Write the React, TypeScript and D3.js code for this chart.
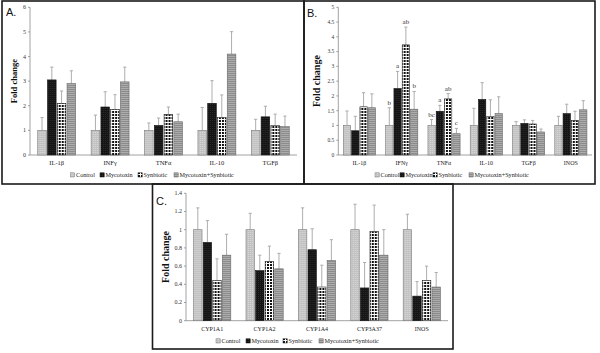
import React from 'react';
import * as d3 from 'd3';

const W = 600;
const H = 353;

const seriesNames = ['Control', 'Mycotoxin', 'Synbiotic', 'Mycotoxin+Synbiotic'];

// panel A
const catsA = ['IL-1β', 'INFγ', 'TNFα', 'IL-10', 'TGFβ'];
const controlA = [1, 1, 1, 1, 1];
const mycoA = [3.05, 1.95, 1.2, 2.1, 1.55];
const synA = [2.1, 1.85, 1.65, 1.52, 1.2];
const mixA = [2.9, 2.97, 1.35, 4.1, 1.15];
const controlSdA = [0.52, 0.62, 0.3, 0.93, 0.45];
const mycoSdA = [0.52, 0.62, 0.3, 0.92, 0.43];
const synSdA = [0.5, 0.6, 0.3, 0.92, 0.46];
const mixSdA = [0.52, 0.6, 0.31, 0.91, 0.43];

// panel B
const catsB = ['IL-1β', 'IFNγ', 'TNFα', 'IL-10', 'TGFβ', 'INOS'];
const controlB = [1, 1, 1, 1, 1, 1];
const mycoB = [0.82, 2.25, 1.48, 1.88, 1.07, 1.4];
const synB = [1.63, 3.73, 1.9, 1.3, 1.05, 1.17];
const mixB = [1.6, 1.55, 0.72, 1.4, 0.78, 1.53];
const controlSdB = [0.49, 0.6, 0.2, 0.58, 0.13, 0.31];
const mycoSdB = [0.49, 0.58, 0.2, 0.57, 0.12, 0.32];
const synSdB = [0.48, 0.6, 0.18, 0.57, 0.12, 0.31];
const mixSdB = [0.47, 0.6, 0.18, 0.57, 0.1, 0.31];
const lettersB = [
  ['', '', '', ''],
  ['b', 'a', 'ab', 'b'],
  ['bc', 'a', 'ab', 'c'],
  ['', '', '', ''],
  ['', '', '', ''],
  ['', '', '', ''],
];

// panel C
const catsC = ['CYP1A1', 'CYP1A2', 'CYP1A4', 'CYP3A37', 'INOS'];
const controlC = [1, 1, 1, 1, 1];
const mycoC = [0.86, 0.55, 0.78, 0.36, 0.27];
const synC = [0.44, 0.65, 0.37, 0.98, 0.44];
const mixC = [0.72, 0.57, 0.66, 0.72, 0.37];
const controlSdC = [0.24, 0.18, 0.24, 0.28, 0.17];
const mycoSdC = [0.24, 0.17, 0.23, 0.28, 0.16];
const synSdC = [0.24, 0.17, 0.24, 0.29, 0.16];
const mixSdC = [0.23, 0.17, 0.23, 0.28, 0.16];

const serif = '"Liberation Serif", "Times New Roman", serif';
const sans = '"Liberation Sans", Arial, sans-serif';

const fills = ['url(#pCtrl)', 'url(#pMyco)', 'url(#pSyn)', 'url(#pMix)'];
const strokes = ['#777', '#111', '#222', '#666'];

type PanelProps = {
  frame: [number, number, number, number];
  letter: string;
  letterXY: [number, number];
  cats: string[];
  values: number[][];
  sds: number[][];
  notes?: string[][];
  yMax: number;
  yStep: number;
  plot: [number, number, number, number]; // left, right, top(yMax), bottom(0)
  padIn: number;
  catY: number;
  legendY: number;
  legendX: number[];
  fTick: number;
  fCat: number;
  fLegend: number;
  fFold: number;
  foldX: number;
};

function Panel(p: PanelProps) {
  const [left, right, top, bottom] = p.plot;
  const y = d3.scaleLinear().domain([0, p.yMax]).range([bottom, top]);
  const x0 = d3.scaleBand<string>().domain(p.cats).range([left, right])
    .paddingInner(p.padIn).paddingOuter(p.padIn / 2);
  const x1 = d3.scaleBand<string>().domain(seriesNames).range([0, x0.bandwidth()]).paddingInner(0.12);
  const ticks = d3.range(0, p.yMax + p.yStep / 2, p.yStep);
  const fmt = d3.format('~g');
  const bw = x1.bandwidth();

  return (
    <g>
      <rect x={p.frame[0]} y={p.frame[1]} width={p.frame[2]} height={p.frame[3]}
        fill="none" stroke="#1a1a1a" strokeWidth={1.6} />
      <text x={p.letterXY[0]} y={p.letterXY[1]} fontFamily={sans} fontSize={11} fill="#111">{p.letter}</text>
      <text transform={`translate(${p.foldX},${(top + bottom) / 2}) rotate(-90)`} textAnchor="middle"
        fontFamily={serif} fontWeight="bold" fontSize={p.fFold} fill="#111">Fold change</text>

      {/* y axis */}
      <line x1={left} x2={left} y1={top} y2={bottom} stroke="#8a8a8a" strokeWidth={0.8} />
      {ticks.map((t) => (
        <g key={t}>
          <line x1={left - 2} x2={left} y1={y(t)} y2={y(t)} stroke="#8a8a8a" strokeWidth={0.8} />
          <text x={left - 4} y={y(t)} dy="0.33em" textAnchor="end" fontFamily={serif}
            fontSize={p.fTick} fill="#333">{fmt(t)}</text>
        </g>
      ))}
      <line x1={left} x2={right} y1={bottom} y2={bottom} stroke="#8a8a8a" strokeWidth={0.8} />

      {/* bars */}
      {p.cats.map((c, ci) => (
        <g key={c} transform={`translate(${x0(c)},0)`}>
          {seriesNames.map((s, si) => {
            const v = p.values[si][ci];
            const e = v + p.sds[si][ci];
            const bx = x1(s)!;
            const cx = bx + bw / 2;
            const note = p.notes ? p.notes[ci][si] : '';
            return (
              <g key={s}>
                <line x1={cx} x2={cx} y1={y(v)} y2={y(e)} stroke="#a5a5a5" strokeWidth={0.9} />
                <line x1={cx - 1.6} x2={cx + 1.6} y1={y(e)} y2={y(e)} stroke="#a5a5a5" strokeWidth={0.9} />
                <rect x={bx} y={y(v)} width={bw} height={bottom - y(v)} fill={fills[si]}
                  stroke={strokes[si]} strokeWidth={0.6} />
                {note && (
                  <text x={cx} y={y(e) - 3} textAnchor="middle" fontFamily={serif} fontSize={7}
                    fill="#333">{note}</text>
                )}
              </g>
            );
          })}
        </g>
      ))}

      {/* category labels */}
      {p.cats.map((c) => (
        <text key={c} x={x0(c)! + x0.bandwidth() / 2} y={p.catY} textAnchor="middle"
          fontFamily={serif} fontSize={p.fCat} fill="#222">{c}</text>
      ))}

      {/* legend */}
      {seriesNames.map((s, si) => (
        <g key={s} transform={`translate(${p.legendX[si]},${p.legendY})`}>
          <rect x={0} y={-2.2} width={4.2} height={4.2} fill={fills[si]} stroke={strokes[si]} strokeWidth={0.5} />
          <text x={5.5} y={0} dy="0.33em" fontFamily={serif} fontSize={p.fLegend} fill="#222">{s}</text>
        </g>
      ))}
    </g>
  );
}

export default function App() {
  return (
    <svg width={W} height={H} style={{ position: 'absolute', left: 0, top: 0, background: '#fff' }}>
      <defs>
        <pattern id="pCtrl" width={2} height={2} patternUnits="userSpaceOnUse">
          <rect width={2} height={2} fill="#c2c2c2" />
          <rect width={1} height={1} fill="#d8d8d8" />
        </pattern>
        <pattern id="pMyco" width={2} height={2} patternUnits="userSpaceOnUse">
          <rect width={2} height={2} fill="#141414" />
          <rect width={1} height={1} fill="#2c2c2c" />
        </pattern>
        <pattern id="pSyn" width={3} height={3} patternUnits="userSpaceOnUse">
          <rect width={3} height={3} fill="#fff" />
          <rect width={2} height={2} fill="#111" />
        </pattern>
        <pattern id="pMix" width={2} height={2} patternUnits="userSpaceOnUse">
          <rect width={2} height={2} fill="#8c8c8c" />
          <rect width={2} height={0.8} fill="#b4b4b4" />
        </pattern>
      </defs>
      <rect width={W} height={H} fill="#fff" />

      <Panel frame={[2, 1, 302, 183]} letter="A." letterXY={[6, 16]} cats={catsA}
        values={[controlA, mycoA, synA, mixA]} sds={[controlSdA, mycoSdA, synSdA, mixSdA]}
        yMax={6} yStep={1} plot={[30, 297, 7.3, 155]} padIn={0.29} catY={164.5}
        legendY={175} legendX={[70.5, 100, 138, 174]} fTick={6} fCat={6.5} fLegend={6.2}
        fFold={8.5} foldX={17} />

      <Panel frame={[304, 1, 291, 183]} letter="B." letterXY={[307, 17]} cats={catsB}
        values={[controlB, mycoB, synB, mixB]} sds={[controlSdB, mycoSdB, synSdB, mixSdB]}
        notes={lettersB}
        yMax={5} yStep={0.5} plot={[338.3, 592, 7.3, 155]} padIn={0.24} catY={164.5}
        legendY={175} legendX={[375, 400, 433, 469]} fTick={5.5} fCat={6} fLegend={6.2}
        fFold={10} foldX={320} />

      <Panel frame={[152.5, 184, 300.5, 165]} letter="C." letterXY={[156, 205]} cats={catsC}
        values={[controlC, mycoC, synC, mixC]} sds={[controlSdC, mycoSdC, synSdC, mixSdC]}
        yMax={1.4} yStep={0.2} plot={[186, 448, 193.3, 320.7]} padIn={0.29} catY={331}
        legendY={341} legendX={[216, 246, 283, 319]} fTick={6} fCat={6} fLegend={6.2}
        fFold={10} foldX={169} />
    </svg>
  );
}
